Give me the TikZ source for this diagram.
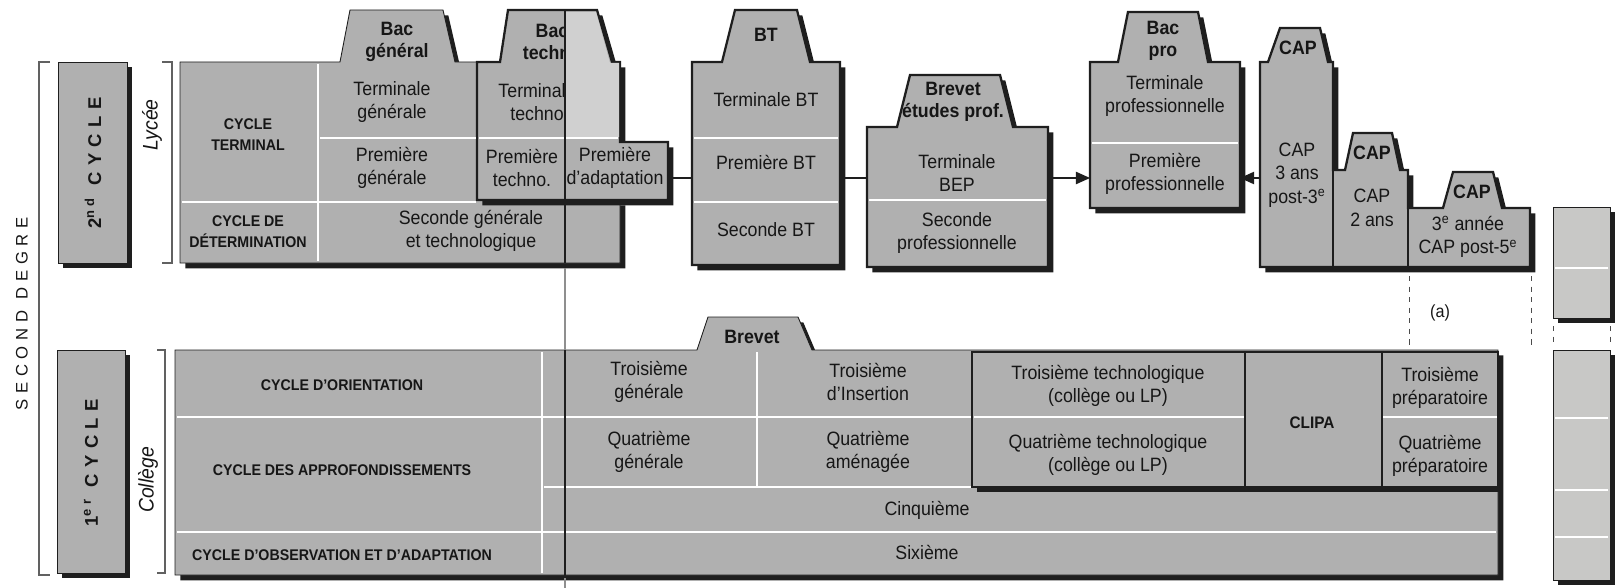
\documentclass[tikz,border=0pt]{standalone}
\usepackage{fontspec}
\setmainfont{Liberation Sans}[FakeStretch=0.92]
\newfontfamily\widefont{Liberation Sans}[LetterSpace=35]
\usetikzlibrary{shadows,arrows.meta}
\definecolor{boxgray}{RGB}{176,176,176}
\definecolor{edge}{RGB}{30,30,30}
\definecolor{speck}{RGB}{200,200,198}
\definecolor{ink}{RGB}{22,22,22}

\begin{document}
\begin{tikzpicture}[
    x=0.02cm,y=-0.02cm,
    blk/.style={fill=boxgray, draw=edge, line width=0.5pt,
      drop shadow={shadow xshift=3pt, shadow yshift=-3pt, fill=edge, opacity=1}},
    heavy/.style={blk, line width=1.3pt},
    sep/.style={draw=white, line width=1.4pt},
    cls/.style={font=\fontsize{11}{13.5}\selectfont, align=center, text=ink, inner sep=0pt},
    cyc/.style={font=\fontsize{8.8}{12}\selectfont\bfseries, align=center, text=ink, inner sep=0pt},
    dipl/.style={font=\fontsize{11}{12.5}\selectfont\bfseries, align=center, text=ink, inner sep=0pt},
    side/.style={rotate=90, font=\fontsize{12}{14}\selectfont\itshape, text=ink},
    brace/.style={draw=edge!70, line width=0.6pt},
    link/.style={draw=edge, line width=0.7pt, -{Triangle[length=8pt,width=7pt]}},
    guide/.style={draw=edge!80, dashed, line width=0.5pt}
    ]

    % left column
    \draw[brace] (50,62) -- (39,62) -- (39,575) -- (50,575);
    \node[rotate=90, font=\widefont\fontsize{9.5}{11}\selectfont, text=ink] (deg) at (22,314) {SECOND DEGRE};
    \path[blk] (58,62) rectangle (127,263);
    \path[blk] (57,350) rectangle (125,573);
    \node[rotate=90, font=\widefont\bfseries\fontsize{10.5}{12}\selectfont, text=ink] (cyc2) at (93,163) {2\textsuperscript{nd} CYCLE};
    \node[rotate=90, font=\widefont\bfseries\fontsize{10.5}{12}\selectfont, text=ink] (cyc1) at (91,463) {1\textsuperscript{er} CYCLE};
    \draw[brace] (162,62) -- (172,62) -- (172,263) -- (162,263);
    \draw[brace] (157,350) -- (165,350) -- (165,573) -- (157,573);
    \node[side] (lycee) at (152,125) {Lycée};
    \node[side] (college) at (148,480) {Collège};

    % passerelle behind the boxes
    \coordinate (adR) at (668,178);
    \coordinate (proL) at (1090,178);
    \coordinate (proR) at (1240,178);
    \coordinate (capL) at (1260,178);
    \draw[link] (adR) -- (proL);

    % lycee
    \path[blk] (180,62) -- (340,62) -- (350,10) -- (443,10) -- (455,62) -- (477,62) -- (477,200)
      -- (620,200) -- (620,263) -- (180,263) -- cycle;
    \path[heavy] (477,62) -- (500,62) -- (508,10) -- (597,10) -- (612,62) -- (620,62) -- (620,142)
      -- (668,142) -- (668,200) -- (477,200) -- cycle;
    \fill[boxgray!60!white] (566,12) -- (596,12) -- (610,63) -- (619,63) -- (619,137) -- (566,137) -- cycle;
    \path[heavy] (692,62) -- (722,62) -- (735,10) -- (797,10) -- (810,62) -- (840,62) -- (840,265) -- (692,265) -- cycle;
    \path[heavy] (867,127) -- (897,127) -- (910,75) -- (1000,75) -- (1013,127) -- (1048,127) -- (1048,267) -- (867,267) -- cycle;
    \path[heavy] (1090,62) -- (1118,62) -- (1128,12) -- (1198,12) -- (1208,62) -- (1240,62) -- (1240,208) -- (1090,208) -- cycle;
    \path[heavy] (1260,62) -- (1268,62) -- (1280,28) -- (1320,28) -- (1328,62) -- (1333,62) -- (1333,170)
      -- (1345,170) -- (1353,133) -- (1392,133) -- (1400,170) -- (1408,170) -- (1408,208)
      -- (1443,208) -- (1453,172) -- (1493,172) -- (1502,208) -- (1530,208) -- (1530,267) -- (1260,267) -- cycle;
    \draw[edge, line width=1pt] (1333,170) -- (1333,267) (1408,208) -- (1408,267);
    \draw[link] (capL) -- (proR);

    \draw[sep] (318,64) -- (318,261);
    \draw[sep] (182,202) -- (476,202);
    \draw[sep] (320,138) -- (476,138);
    \draw[sep] (479,138) -- (618,138);
    \draw[sep] (694,138) -- (838,138) (694,202) -- (838,202);
    \draw[sep] (869,200) -- (1046,200);
    \draw[sep] (1092,143) -- (1238,143);

    % college
    \path[blk] (175,350) -- (697,350) -- (708,317) -- (798,317) -- (812,350) -- (1498,350) -- (1498,575) -- (175,575) -- cycle;
    \draw[sep] (542,352) -- (542,573);
    \draw[sep] (757,352) -- (757,487);
    \draw[sep] (177,417) -- (972,417);
    \draw[sep] (544,487) -- (1496,487);
    \draw[sep] (177,532) -- (1496,532);
    \path[heavy] (972,352) rectangle (1498,487);
    \draw[edge, line width=1.3pt] (1245,352) -- (1245,487) (1382,352) -- (1382,487);
    \draw[sep] (974,417) -- (1244,417) (1383,417) -- (1497,417);

    % right column
    \path[blk, fill=speck] (1553,207) rectangle (1610,318);
    \path[blk, fill=speck] (1553,350) rectangle (1610,580);
    \draw[sep] (1555,268) -- (1608,268);
    \draw[sep] (1555,418) -- (1608,418) (1555,490) -- (1608,490) (1555,537) -- (1608,537);
    \draw[guide] (1409,276) -- (1409,346);
    \draw[guide] (1531,276) -- (1531,346);
    \draw[guide] (1553,326) -- (1553,347);
    \draw[guide] (1610,326) -- (1610,347);
    \node[cls, font=\fontsize{10}{12}\selectfont] (nota) at (1440,313) {(a)};

    % texts lycee
    \node[cyc] (cterm) at (248,135) {CYCLE\\TERMINAL};
    \node[cyc] (cdet) at (248,232) {CYCLE DE\\DÉTERMINATION};
    \node[dipl] (bacgen) at (397,42) {Bac\\général};
    \node[cls] (tgen) at (392,102) {Terminale\\générale};
    \node[cls] (pgen) at (392,168) {Première\\générale};
    \node[cls] (sgt) at (471,231) {Seconde générale\\et technologique};
    \begin{scope}
      \clip (470,0) rectangle (565,140);
      \node[dipl] (bactech) at (552,42) {Bac\\techno};
      \node[cls] (ttech) at (537,102) {Terminale\\techno};
    \end{scope}
    \node[cls] (ptech) at (522,168) {Première\\techno.};
    \node[cls] (padapt) at (615,168) {Première\\d'adaptation};
    \node[dipl] (bt) at (766,35) {BT};
    \node[cls] (tbt) at (766,100) {Terminale BT};
    \node[cls] (pbt) at (766,162) {Première BT};
    \node[cls] (sbt) at (766,230) {Seconde BT};
    \node[dipl] (bep) at (953,102) {Brevet\\études prof.};
    \node[cls] (tbep) at (957,173) {Terminale\\BEP};
    \node[cls] (sbep) at (957,233) {Seconde\\professionnelle};
    \node[dipl] (bacpro) at (1163,41) {Bac\\pro};
    \node[cls] (tpro) at (1165,96) {Terminale\\professionnelle};
    \node[cls] (ppro) at (1165,174) {Première\\professionnelle};
    \node[dipl] (capa) at (1298,48) {CAP};
    \node[cls] (capat) at (1297,175) {CAP\\3 ans\\post-3\textsuperscript{e}};
    \node[dipl] (capb) at (1372,153) {CAP};
    \node[cls] (capbt) at (1372,208) {CAP\\2 ans};
    \node[dipl] (capc) at (1472,192) {CAP};
    \node[cls] (capct) at (1468,237) {3\textsuperscript{e} année\\CAP post-5\textsuperscript{e}};

    % texts college
    \node[dipl] (brevet) at (752,337) {Brevet};
    \node[cyc] (corient) at (342,385) {CYCLE D'ORIENTATION};
    \node[cyc] (cappro) at (342,470) {CYCLE DES APPROFONDISSEMENTS};
    \node[cyc] (cobs) at (342,555) {CYCLE D'OBSERVATION ET D'ADAPTATION};
    \node[cls] (trg) at (649,382) {Troisième\\générale};
    \node[cls] (qg) at (649,452) {Quatrième\\générale};
    \node[cls] (trins) at (868,382) {Troisième\\d'Insertion};
    \node[cls] (qam) at (868,452) {Quatrième\\aménagée};
    \node[cls] (cinq) at (927,510) {Cinquième};
    \node[cls] (six) at (927,552) {Sixième};
    \node[cls] (trtech) at (1108,386) {Troisième technologique\\(collège ou LP)};
    \node[cls] (qtech) at (1108,455) {Quatrième technologique\\(collège ou LP)};
    \node[cyc, font=\fontsize{9.5}{12}\selectfont\bfseries] (clipa) at (1312,423) {CLIPA};
    \node[cls] (trprep) at (1440,388) {Troisième\\préparatoire};
    \node[cls] (qprep) at (1440,456) {Quatrième\\préparatoire};

    % fold line
    \draw[edge, line width=1.5pt] (565,10) -- (565,263);
    \draw[edge!50, line width=0.6pt] (565,268) -- (565,350);
    \draw[edge, line width=1.5pt] (565,350) -- (565,578);
    \draw[edge!50, line width=0.6pt] (565,578) -- (565,588);

    \pgfresetboundingbox
    \useasboundingbox (0,0) rectangle (1616,588);
  \end{tikzpicture}
\end{document}
